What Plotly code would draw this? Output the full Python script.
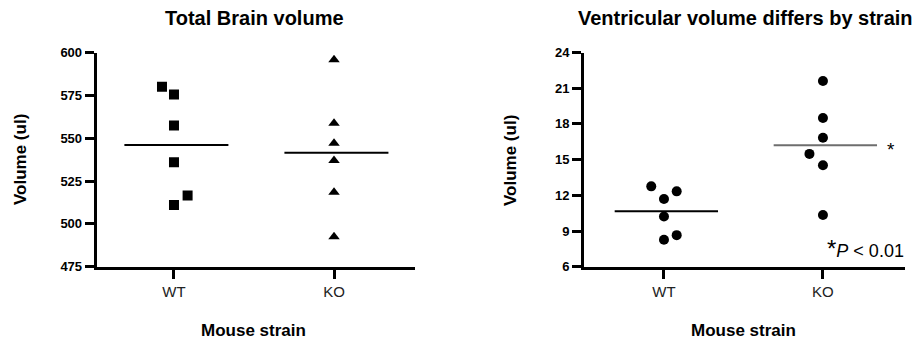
import numpy as np
import plotly.graph_objects as go

W, H = 919, 339

categories = ["WT", "KO"]
cat_pos = [1, 2]

# Total brain volume (ul)
brain_wt = [580.0, 575.5, 557.4, 536.0, 516.5, 511.0]
brain_ko = [595.7, 558.7, 547.0, 537.0, 518.4, 492.5]
# Ventricular volume (ul)
vent_wt = [12.75, 12.33, 11.69, 10.22, 8.65, 8.26]
vent_ko = [21.6, 18.49, 16.83, 15.48, 14.52, 10.34]

brain_ticks = [475, 500, 525, 550, 575, 600]
vent_ticks = [6, 9, 12, 15, 18, 21, 24]

# horizontal jitter (category units) as drawn in the dot plot
jit_brain_wt = [-0.075, 0, 0, 0, 0.085, 0]
jit_brain_ko = [0, 0, 0, 0, 0, 0]
jit_vent_wt = [-0.08, 0.08, 0, 0, 0.08, 0]
jit_vent_ko = [0, 0, 0, -0.085, 0, 0]

FONT = "Liberation Sans, Arial, sans-serif"

fig = go.Figure()

def add_group(xaxis, yaxis, cpos, vals, jit, symbol, line_color):
    xs = [cpos + j for j in jit]
    fig.add_trace(go.Scatter(x=xs, y=vals, mode="markers", xaxis=xaxis, yaxis=yaxis,
                             marker=dict(symbol=symbol, size=10, color="black",
                                         line=dict(width=0)),
                             showlegend=False, hoverinfo="y"))
    m = float(np.mean(vals))
    fig.add_trace(go.Scatter(x=[cpos - 0.31, cpos + 0.34], y=[m, m], mode="lines",
                             xaxis=xaxis, yaxis=yaxis,
                             line=dict(color=line_color, width=2), showlegend=False,
                             hoverinfo="skip"))

add_group("x", "y", cat_pos[0], brain_wt, jit_brain_wt, "square", "black")
add_group("x", "y", cat_pos[1], brain_ko, jit_brain_ko, "triangle-up", "black")
add_group("x2", "y2", cat_pos[0], vent_wt, jit_vent_wt, "circle", "black")
add_group("x2", "y2", cat_pos[1], vent_ko, jit_vent_ko, "circle", "#6e6e6e")

ydom = [(H - 266.7) / H, (H - 52.5) / H]

axis_common = dict(showline=True, linecolor="black", linewidth=3, ticks="outside",
                   tickwidth=3, ticklen=9, tickcolor="black", showgrid=False, zeroline=False,
                   automargin=False)
ytick_font = dict(family=FONT, size=13, color="black", weight="bold")
xtick_font = dict(family=FONT, size=15, color="#222222")

fig.update_layout(
    width=W, height=H, margin=dict(l=0, r=0, t=0, b=0),
    paper_bgcolor="white", plot_bgcolor="white",
    xaxis=dict(domain=[96.7 / W, 415 / W], range=[0.517, 2.506], tickvals=cat_pos,
               ticktext=categories, anchor="y", tickfont=xtick_font, **axis_common),
    yaxis=dict(domain=ydom, range=[475, 600], tickvals=brain_ticks, anchor="x",
               tickfont=ytick_font, **axis_common),
    xaxis2=dict(domain=[584 / W, 905 / W], range=[0.497, 2.516], tickvals=cat_pos,
                ticktext=categories, anchor="y2", tickfont=xtick_font, **axis_common),
    yaxis2=dict(domain=ydom, range=[6, 24], tickvals=vent_ticks, anchor="x2",
                tickfont=ytick_font, **axis_common),
)

def pa(text, x, y, size, **kw):
    d = dict(text=text, x=x / W, y=1 - y / H, xref="paper", yref="paper", showarrow=False,
             xanchor="center", yanchor="middle", font=dict(family=FONT, size=size, color="black"))
    d.update(kw)
    return d

annots = [
    pa("<b>Total Brain volume</b>", 254, 18, 20),
    pa("<b>Ventricular volume differs by strain</b>", 745, 18, 20),
    pa("<b>Mouse strain</b>", 253, 330, 17),
    pa("<b>Mouse strain</b>", 743, 330, 17),
    pa("<b>Volume (ul)</b>", 20, 160, 17, textangle=-90),
    pa("<b>Volume (ul)</b>", 510, 160, 17, textangle=-90),
    dict(text="*", x=2.39, y=float(np.mean(vent_ko)), xref="x2", yref="y2", showarrow=False,
         xanchor="left", yanchor="middle", font=dict(family=FONT, size=19, color="black"),
         yshift=-4),
    pa("<span style='font-size:24px'>*</span><i>P</i> < 0.01", 906, 248, 18, xanchor="right"),
]
fig.update_layout(annotations=annots)

fig.write_html("out.html", config={"displayModeBar": False},
               post_script="document.body.style.margin='0';")
